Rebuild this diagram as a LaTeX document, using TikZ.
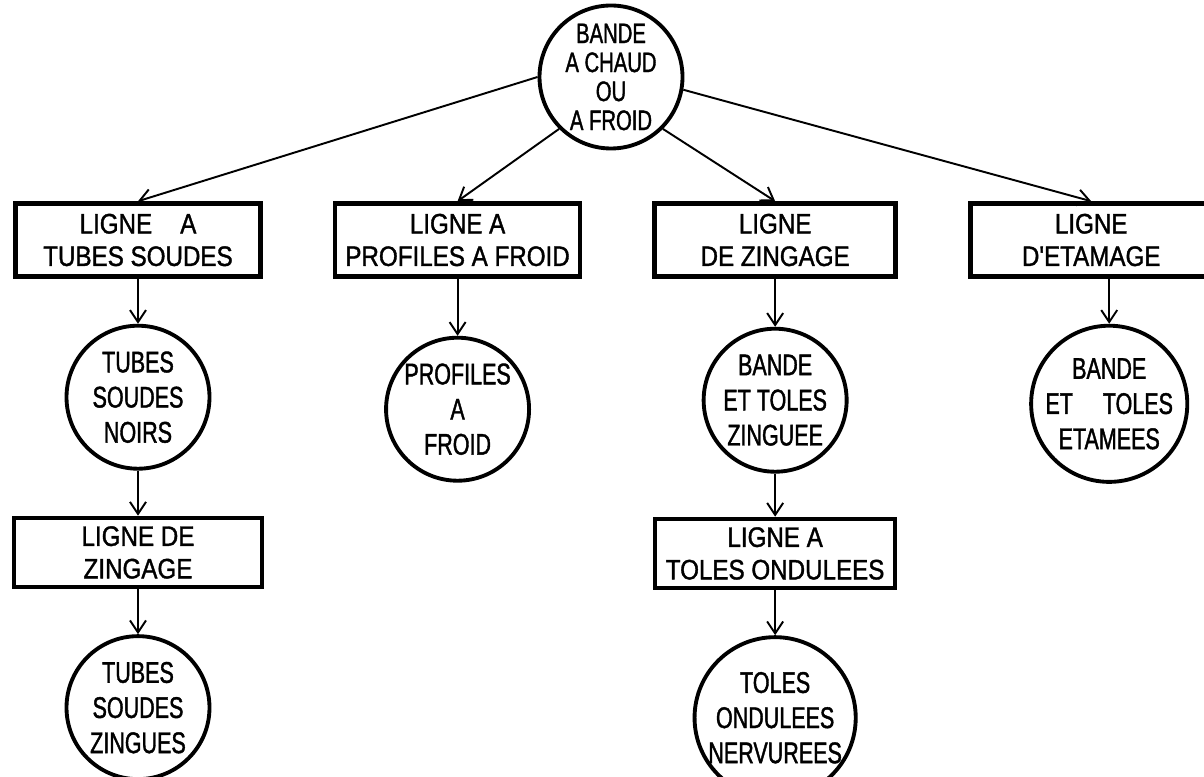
\documentclass[tikz,border=0pt]{standalone}
\usepackage{fontspec}
\setmainfont{Liberation Sans}[FakeStretch=0.82]
\newfontfamily\boxfont{Liberation Sans}[FakeStretch=0.86,FakeBold=1.3]
\newfontfamily\circfont{Liberation Sans}[FakeStretch=0.72,FakeBold=1.3]
\usetikzlibrary{arrows.meta,positioning}
\tikzset{
  linebox/.style={
    rectangle,
    draw=black,
    line width=2.6pt,
    align=center,
    minimum width=4.9cm,
    minimum height=1.46cm,
    inner sep=2pt,
    font=\boxfont\fontsize{16}{18.5}\selectfont
  },
  prodcircle/.style={
    circle,
    draw=black,
    line width=2.2pt,
    align=center,
    minimum size=2.86cm,
    inner sep=0pt,
    font=\circfont\fontsize{17}{20}\selectfont
  },
  flowarrow/.style={-{Straight Barb[length=2.4mm,width=3.2mm]}, line width=1.1pt, draw=black}
}

\begin{document}
\begin{tikzpicture}[node distance=0.9cm and 1.4cm]
\useasboundingbox (0,0) rectangle (24.08,-15.54);
\node[prodcircle, font=\circfont\fontsize{16}{16.5}\selectfont] (bande) at (12.22,-1.54) {BANDE\\A CHAUD\\OU\\A FROID};
\node[linebox] (tubesline) at (2.76,-4.80) {LIGNE\quad A\\TUBES SOUDES};
\node[linebox, right=of tubesline] (profline) {LIGNE A\\PROFILES A FROID};
\node[linebox, right=of profline, minimum width=4.82cm] (zincline) {LIGNE\\DE ZINGAGE};
\node[linebox, right=of zincline, minimum width=4.84cm] (etamline) {LIGNE\\D'ETAMAGE};
\node[prodcircle, below=of tubesline] (tubesnoirs) {TUBES\\SOUDES\\NOIRS};
\node[prodcircle, below=1.14cm of profline] (profiles) {PROFILES\\A\\FROID};
\node[prodcircle, below=0.96cm of zincline] (tolzinc) {BANDE\\ET TOLES\\ZINGUEE};
\node[prodcircle, below=0.9cm of etamline, xshift=0.36cm] (etamees) {BANDE\\ET\quad TOLES\\ETAMEES};
\node[linebox, below=of tubesnoirs, minimum width=4.96cm, minimum height=1.38cm] (zincline2) {LIGNE DE\\ZINGAGE};
\node[linebox, below=0.86cm of tolzinc, minimum width=4.8cm, minimum height=1.38cm] (ondline) {LIGNE A\\TOLES ONDULEES};
\node[prodcircle, below=0.9cm of zincline2] (tubeszinc) {TUBES\\SOUDES\\ZINGUES};
\node[prodcircle, below=0.9cm of ondline] (tolond) {TOLES\\ONDULEES\\NERVUREES};
\draw[flowarrow] (bande.west) -- (tubesline.north);
\draw[flowarrow] (bande.225) -- (profline.north);
\draw[flowarrow] (bande.-45) -- (zincline.north);
\draw[flowarrow] (bande.-10) -- (etamline.north);
\draw[flowarrow] (tubesline) -- (tubesnoirs);
\draw[flowarrow] (profline) -- (profiles);
\draw[flowarrow] (zincline) -- (tolzinc);
\draw[flowarrow] (etamees.north |- etamline.south) -- (etamees.north);
\draw[flowarrow] (tubesnoirs) -- (zincline2);
\draw[flowarrow] (zincline2) -- (tubeszinc);
\draw[flowarrow] (tolzinc) -- (ondline);
\draw[flowarrow] (ondline) -- (tolond);
\end{tikzpicture}
\end{document}
